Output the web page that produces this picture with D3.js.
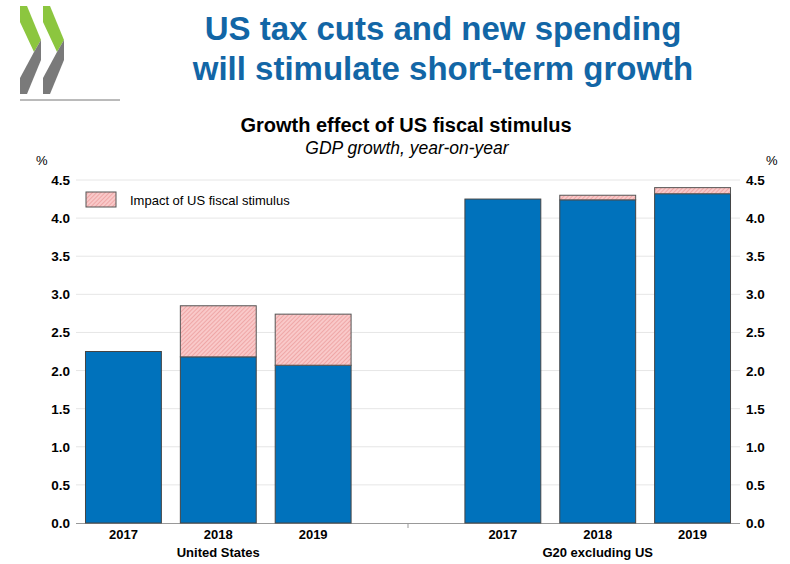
<!DOCTYPE html>
<html><head><meta charset="utf-8">
<script src="https://cdn.jsdelivr.net/npm/d3@7"></script>
<style>body{margin:0;background:#fff}svg{font-family:Arial,"Liberation Sans",sans-serif}</style>
</head><body><svg id="c" width="790" height="564"></svg>
<script>
const slots = ["US2017","US2018","US2019","gap","G2017","G2018","G2019"];
const yearLabels = ["2017","2018","2019","","2017","2018","2019"];
const baseValues = [2.25,2.18,2.07,null,4.25,4.24,4.32];
const stimulusValues = [0,0.67,0.67,null,0,0.06,0.08];
const groupNames = ["United States","G20 excluding US"];
const yTicks = [0,0.5,1,1.5,2,2.5,3,3.5,4,4.5];

const svg = d3.select("#c");
const defs = svg.append("defs");
const pat = defs.append("pattern").attr("id","hatch").attr("patternUnits","userSpaceOnUse")
  .attr("width",3).attr("height",3).attr("patternTransform","rotate(45)");
pat.append("rect").attr("width",3).attr("height",3).attr("fill","#f9c9c9");
pat.append("line").attr("x1",0).attr("y1",0).attr("x2",0).attr("y2",3).attr("stroke","#e58585").attr("stroke-width",1);

// logo
[20,43].forEach(x=>{
  svg.append("polygon").attr("points",`${x},6 ${x+7},6 ${x+21},40 ${x+14},52 ${x},22`).attr("fill","#8cc63f");
  svg.append("polygon").attr("points",`${x+14},52 ${x+21},40 ${x+21},60 ${x+7},94 ${x},94 ${x},78`).attr("fill","#7a7a7a");
});
svg.append("line").attr("x1",20).attr("x2",120).attr("y1",100).attr("y2",100).attr("stroke","#777").attr("stroke-width",1);

svg.append("text").attr("x",443).attr("y",40).attr("text-anchor","middle").attr("fill","#1266a6")
  .attr("font-size",33).attr("font-weight","bold").text("US tax cuts and new spending");
svg.append("text").attr("x",443).attr("y",80).attr("text-anchor","middle").attr("fill","#1266a6")
  .attr("font-size",33).attr("font-weight","bold").text("will stimulate short-term growth");
svg.append("text").attr("x",406).attr("y",132).attr("text-anchor","middle").attr("font-size",20).attr("font-weight","bold").text("Growth effect of US fiscal stimulus");
svg.append("text").attr("x",407).attr("y",154).attr("text-anchor","middle").attr("font-size",17.5).attr("font-style","italic").text("GDP growth, year-on-year");

const x = d3.scaleBand().domain(slots).range([76,740]).paddingInner(0.2).paddingOuter(0.1);
const y = d3.scaleLinear().domain([0,4.5]).range([523,180]);

yTicks.forEach(t=>{
  if(t>0) svg.append("line").attr("x1",76).attr("x2",740).attr("y1",y(t)).attr("y2",y(t)).attr("stroke","#e6e6e6");
  svg.append("text").attr("x",70).attr("y",y(t)+5).attr("text-anchor","end").attr("font-size",13.5).attr("font-weight","bold").text(t.toFixed(1));
  svg.append("text").attr("x",746).attr("y",y(t)+5).attr("font-size",13.5).attr("font-weight","bold").text(t.toFixed(1));
});
svg.append("text").attr("x",36).attr("y",165).attr("font-size",13).text("%");
svg.append("text").attr("x",766).attr("y",165).attr("font-size",13).text("%");
svg.append("line").attr("x1",76).attr("x2",740).attr("y1",523.5).attr("y2",523.5).attr("stroke","#999");
const sepX = x("gap")+x.bandwidth()/2;
svg.append("line").attr("x1",sepX).attr("x2",sepX).attr("y1",523).attr("y2",528).attr("stroke","#999");

slots.forEach((s,i)=>{
  if(baseValues[i]==null) return;
  svg.append("rect").attr("x",x(s)).attr("width",x.bandwidth()).attr("y",y(baseValues[i])).attr("height",y(0)-y(baseValues[i]))
    .attr("fill","#0072bc").attr("stroke","#444").attr("stroke-width",1);
  if(stimulusValues[i]>0){
    const top=baseValues[i]+stimulusValues[i];
    svg.append("rect").attr("x",x(s)).attr("width",x.bandwidth()).attr("y",y(top)).attr("height",y(baseValues[i])-y(top))
      .attr("fill","url(#hatch)").attr("stroke","#555").attr("stroke-width",1);
  }
  svg.append("text").attr("x",x(s)+x.bandwidth()/2).attr("y",539).attr("text-anchor","middle").attr("font-size",13).attr("font-weight","bold").text(yearLabels[i]);
});
svg.append("text").attr("x",x("US2018")+x.bandwidth()/2).attr("y",557).attr("text-anchor","middle").attr("font-size",13).attr("font-weight","bold").text(groupNames[0]);
svg.append("text").attr("x",x("G2018")+x.bandwidth()/2).attr("y",557).attr("text-anchor","middle").attr("font-size",13).attr("font-weight","bold").text(groupNames[1]);

svg.append("rect").attr("x",86).attr("y",192).attr("width",30).attr("height",15).attr("fill","url(#hatch)").attr("stroke","#555");
svg.append("text").attr("x",130).attr("y",205).attr("font-size",13).text("Impact of US fiscal stimulus");
</script></body></html>
